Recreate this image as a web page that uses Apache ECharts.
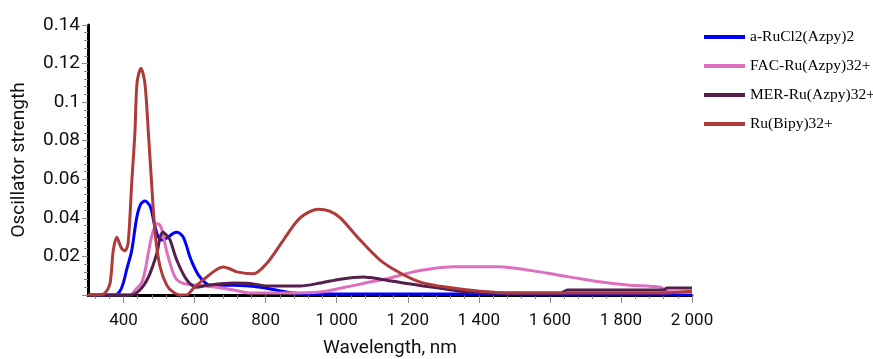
<!DOCTYPE html>
<html>
<head>
<meta charset="utf-8">
<script src="https://cdn.jsdelivr.net/npm/echarts@6/dist/echarts.min.js"></script>
<style>
html,body{margin:0;padding:0;background:#fff;}
#chart{width:873px;height:359px;}
</style>
</head>
<body>
<div id="chart"></div>
<script>
// ---- Data ----
const seriesNames = ['a-RuCl2(Azpy)2', 'FAC-Ru(Azpy)32+', 'MER-Ru(Azpy)32+', 'Ru(Bipy)32+'];

const blueWl  = [300,376,390,399,410,423,437,448,460,475,489,498,508,526,540,550,568,587,600,615,644,710,785,832,880,950,1500,1510,2000];
const blueVal = [0,0,0.002,0.006,0.014,0.023,0.040,0.047,0.0487,0.046,0.035,0.030,0.0285,0.030,0.032,0.0326,0.030,0.0197,0.014,0.0093,0.005,0.005,0.004,0.0025,0.001,0.0005,0.0005,0,0];

const pinkWl  = [300,420,430,440,450,460,470,480,490,497,508,521,545,568,615,662,710,756,855,954,1010,1075,1150,1216,1263,1329,1451,1497,1554,1621,1666,1723,1818,1911,1930,2000];
const pinkVal = [0,0,0.002,0.004,0.006,0.012,0.022,0.031,0.036,0.037,0.034,0.023,0.0093,0.006,0.005,0.004,0.0026,0.001,0.001,0.0015,0.0035,0.006,0.0088,0.012,0.0135,0.0146,0.0146,0.014,0.0125,0.0104,0.009,0.0073,0.0052,0.004,0.002,0.0015];

const purpleWl  = [300,420,446,470,494,503,511,521,531,550,578,606,635,710,756,804,897,954,1010,1075,1123,1188,1244,1311,1367,1451,1630,1650,1920,1930,2000];
const purpleVal = [0,0,0.0026,0.0093,0.0218,0.030,0.0326,0.031,0.0285,0.018,0.0078,0.004,0.005,0.0062,0.006,0.0047,0.0047,0.0062,0.0082,0.0093,0.0082,0.0062,0.0047,0.003,0.0015,0.001,0.001,0.0026,0.0026,0.0036,0.0036];

const redWl  = [300,334,348,362,371,381,388,395,404,413,423,432,438,449,460,470,479,489,503,522,540,560,578,597,634,660,681,700,719,765,804,850,897,948,980,1010,1066,1123,1179,1235,1311,1404,1497,1700,1900,2000];
const redVal = [0,0,0.001,0.006,0.023,0.030,0.027,0.024,0.023,0.027,0.058,0.084,0.110,0.1176,0.110,0.084,0.058,0.032,0.0145,0.005,0.0015,0,0,0.0036,0.0093,0.013,0.0145,0.0135,0.012,0.011,0.0166,0.0285,0.040,0.0445,0.0435,0.040,0.0285,0.018,0.0114,0.0067,0.004,0.002,0.001,0.001,0.001,0.002];

const xLabelValues = [400,600,800,1000,1200,1400,1600,1800,2000];
const xMinorTickValues = [];
for (let v = 320; v <= 2000; v += 40) xMinorTickValues.push(v);

// ---- Chart ----
const colors = ['#0000FF', '#DE6FBF', '#551E4B', '#AE3A3A'];
const wls = [blueWl, pinkWl, purpleWl, redWl];
const vals = [blueVal, pinkVal, purpleVal, redVal];

function pairs(x, y) { return x.map((v, i) => [v, y[i]]); }

const labelFont = 'Roboto';
const chart = echarts.init(document.getElementById('chart'));
chart.setOption({
  animation: false,
  backgroundColor: '#ffffff',
  grid: { left: 88, right: 181, top: 25, bottom: 64, containLabel: false, outerBoundsMode: 'none' },
  legend: {
    orient: 'vertical',
    left: 699,
    top: 24,
    icon: 'rect',
    itemWidth: 41,
    itemHeight: 4,
    itemGap: 13,
    textStyle: { fontFamily: 'Liberation Serif', fontSize: 15.5, color: '#000', lineHeight: 16 },
    data: seriesNames
  },
  xAxis: [{
    type: 'value',
    min: 300,
    max: 2000,
    name: 'Wavelength, nm',
    nameLocation: 'middle',
    nameGap: 44,
    nameTextStyle: { fontFamily: labelFont, fontSize: 19, color: '#111' },
    axisLine: { show: true, onZero: false, lineStyle: { color: '#000', width: 3 } },
    axisTick: { show: true, length: 8, lineStyle: { color: '#888', width: 1 }, customValues: xLabelValues },
    axisLabel: {
      fontFamily: labelFont, fontSize: 17, color: '#111', margin: 17,
      customValues: xLabelValues,
      formatter: v => v >= 1000 ? Math.floor(v / 1000) + ' ' + String(v % 1000).padStart(3, '0') : String(v)
    },
    splitLine: { show: false }
  }, {
    type: 'value',
    min: 300,
    max: 2000,
    position: 'bottom',
    axisLine: { show: false },
    axisTick: { show: true, length: 4, lineStyle: { color: '#888', width: 1 }, customValues: xMinorTickValues },
    axisLabel: { show: false },
    splitLine: { show: false }
  }],
  yAxis: {
    type: 'value',
    min: 0,
    max: 0.14,
    interval: 0.02,
    name: 'Oscillator strength',
    nameLocation: 'middle',
    nameGap: 59,
    nameTextStyle: { fontFamily: labelFont, fontSize: 19, color: '#111' },
    axisLine: { show: true, lineStyle: { color: '#000', width: 3 } },
    axisTick: { show: true, length: 6, lineStyle: { color: '#888', width: 1 } },
    minorTick: { show: true, splitNumber: 5, length: 4, lineStyle: { color: '#888', width: 1 } },
    axisLabel: {
      fontFamily: labelFont, fontSize: 19, color: '#111', margin: 8,
      formatter: v => v === 0 ? '' : String(+v.toFixed(2))
    },
    splitLine: { show: false }
  },
  series: seriesNames.map((n, i) => ({
    name: n,
    type: 'line',
    xAxisIndex: 0,
    data: pairs(wls[i], vals[i]),
    showSymbol: false,
    smooth: 0.3,
    lineStyle: { color: colors[i], width: 3 },
    itemStyle: { color: colors[i] },
    z: 2 + i
  }))
});
</script>
</body>
</html>
